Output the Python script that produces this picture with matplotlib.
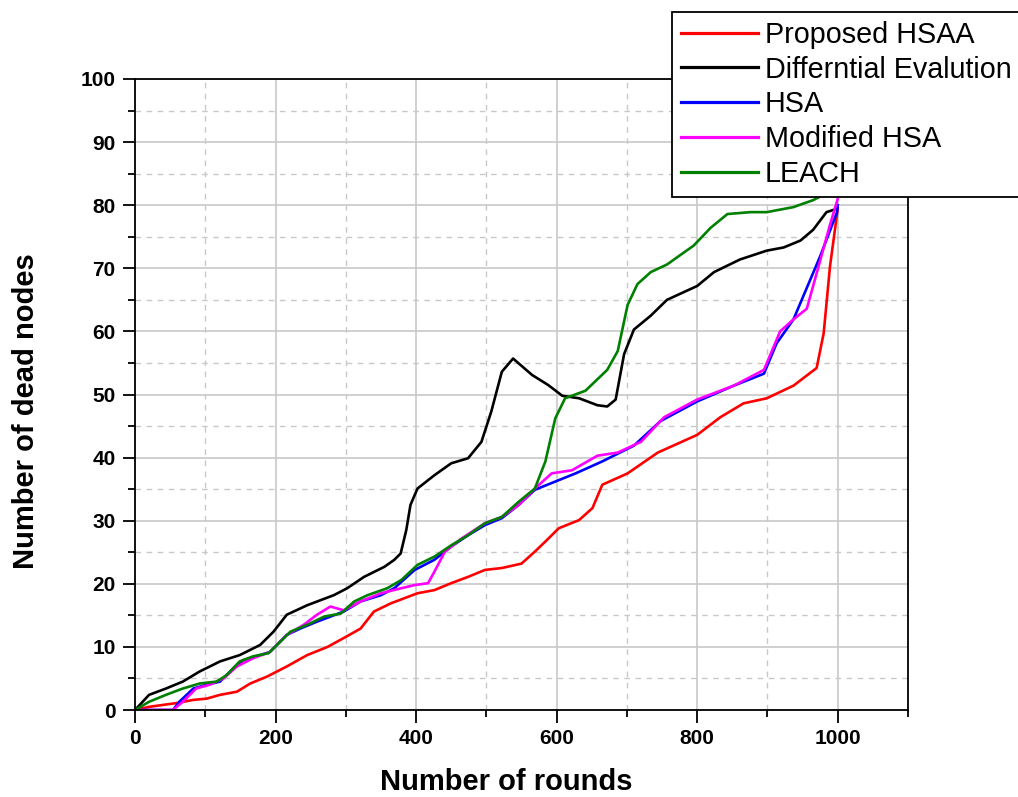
import matplotlib
matplotlib.use('Agg')
import matplotlib.pyplot as plt
from matplotlib.ticker import MultipleLocator

# dead nodes vs rounds
hsaa_x = [0, 20, 59, 83, 102, 121, 145, 164, 188, 216, 245, 274, 297, 321, 340, 364, 402, 426, 450, 474,
          498, 522, 550, 569, 584, 603, 632, 651, 665, 701, 744, 800, 833, 866, 899, 937, 970, 980, 989, 999, 1000]
hsaa_y = [0, 0.5, 1.1, 1.6, 1.8, 2.4, 2.9, 4.2, 5.3, 6.9, 8.7, 10.0, 11.4, 12.9, 15.6, 16.9, 18.5, 19.0, 20.1, 21.1,
          22.2, 22.5, 23.2, 25.1, 26.7, 28.8, 30.1, 32.0, 35.7, 37.5, 40.8, 43.6, 46.4, 48.6, 49.4, 51.4, 54.2, 59.7, 70.3, 78.6, 79.5]

de_x = [0, 20, 44, 68, 92, 121, 149, 178, 197, 216, 245, 283, 302, 326, 355, 369, 378, 386, 392, 402, 426, 450, 474,
        493, 507, 522, 538, 565, 588, 608, 632, 658, 672, 684, 696, 710, 734, 757, 800, 824, 861, 899, 923, 947,
        965, 984, 998]
de_y = [0, 2.4, 3.4, 4.5, 6.1, 7.7, 8.7, 10.3, 12.4, 15.1, 16.6, 18.2, 19.3, 21.1, 22.7, 23.8, 24.8, 28.5, 32.5, 35.1,
        37.2, 39.1, 39.9, 42.5, 47.3, 53.6, 55.7, 53.1, 51.5, 49.8, 49.4, 48.3, 48.1, 49.2, 56.4, 60.3, 62.5, 65.0,
        67.2, 69.4, 71.4, 72.8, 73.3, 74.4, 76.1, 78.9, 79.4]

hsa_x = [0, 54, 63, 83, 102, 121, 140, 154, 178, 192, 216, 235, 259, 278, 297, 321, 350, 369, 398, 426, 450, 474,
         498, 522, 546, 569, 598, 627, 665, 710, 748, 800, 852, 895, 913, 937, 956, 975, 999, 1000]
hsa_y = [0, 0, 1.3, 3.4, 4.0, 4.5, 6.6, 7.9, 8.7, 9.2, 11.9, 12.9, 14.0, 14.8, 15.6, 17.2, 18.2, 19.3, 22.2, 23.8,
         25.9, 27.7, 29.3, 30.4, 32.5, 34.9, 36.2, 37.5, 39.4, 41.9, 45.8, 48.9, 51.4, 53.3, 58.1, 61.9, 66.9, 71.9,
         78.9, 80.0]

mhsa_x = [0, 54, 68, 87, 106, 126, 145, 168, 192, 216, 240, 259, 278, 297, 321, 350, 379, 398, 417, 426, 441, 465,
          498, 522, 546, 569, 593, 622, 658, 687, 720, 753, 800, 852, 895, 918, 937, 956, 970, 989, 1000]
mhsa_y = [0, 0, 1.3, 3.4, 4.0, 5.0, 6.9, 8.2, 9.2, 11.9, 13.5, 15.1, 16.4, 15.8, 17.2, 18.5, 19.3, 19.8, 20.1, 21.9,
          25.1, 27.2, 29.6, 30.6, 32.5, 35.1, 37.5, 38.0, 40.3, 40.8, 42.5, 46.4, 49.2, 51.4, 53.9, 60.0, 61.9, 63.6,
          69.2, 76.9, 81.0]

leach_x = [0, 20, 44, 68, 92, 116, 130, 149, 168, 190, 202, 221, 245, 269, 293, 312, 331, 359, 379, 402, 426, 450,
           474, 498, 522, 546, 569, 584, 598, 612, 641, 672, 687, 701, 715, 734, 757, 795, 819, 843, 876, 899, 937,
           965, 984, 995]
leach_y = [0, 1.3, 2.4, 3.4, 4.2, 4.5, 5.5, 7.7, 8.5, 9.0, 10.3, 12.4, 13.5, 14.8, 15.3, 17.2, 18.2, 19.3, 20.6,
           23.0, 24.3, 26.1, 27.7, 29.6, 30.6, 33.0, 35.1, 39.4, 46.2, 49.4, 50.6, 53.9, 56.9, 64.2, 67.5, 69.4, 70.6,
           73.6, 76.4, 78.6, 78.9, 78.9, 79.7, 80.8, 81.9, 83.0]

series = [
    ('Proposed HSAA', hsaa_x, hsaa_y, '#ff0000'),
    ('Differntial Evalution', de_x, de_y, '#000000'),
    ('HSA', hsa_x, hsa_y, '#0000ff'),
    ('Modified HSA', mhsa_x, mhsa_y, '#ff00ff'),
    ('LEACH', leach_x, leach_y, '#008000'),
]

plt.rcParams['font.family'] = ['Liberation Sans', 'DejaVu Sans']

W, H = 1018, 797
fig = plt.figure(figsize=(W / 100, H / 100), dpi=100)
ax = fig.add_axes([135 / W, 87 / H, (908 - 135) / W, (710 - 79) / H])

for label, xs, ys, col in series:
    ax.plot(xs, ys, color=col, lw=1.9, label=label)

ax.set_xlim(0, 1100)
ax.set_ylim(0, 100)
ax.xaxis.set_major_locator(MultipleLocator(200))
ax.xaxis.set_minor_locator(MultipleLocator(100))
ax.yaxis.set_major_locator(MultipleLocator(10))
ax.yaxis.set_minor_locator(MultipleLocator(5))
ax.set_xticks([0, 200, 400, 600, 800, 1000])

ax.grid(which='major', color='#c8c8c8', lw=1.2, ls='-')
ax.grid(which='minor', color='#c8c8c8', lw=1.0, ls=(0, (4, 4)))
ax.set_axisbelow(True)

for sp in ax.spines.values():
    sp.set_linewidth(1.3)
ax.tick_params(which='major', direction='out', length=9, width=1.3, pad=5, labelsize=15)
ax.tick_params(which='minor', direction='out', length=5, width=1.3)
for t in ax.get_xticklabels() + ax.get_yticklabels():
    t.set_fontweight('bold')

ax.set_xlabel('Number of rounds', fontsize=21, fontweight='bold', va='center')
ax.set_ylabel('Number of dead nodes', fontsize=21, fontweight='bold', va='center')
ax.xaxis.set_label_coords((506 - 135) / 773, (710 - 782) / 631)
ax.yaxis.set_label_coords((26 - 135) / 773, (710 - 411) / 631)

leg = fig.legend(loc='upper left', bbox_to_anchor=(672 / W, 1 - 12 / H), borderaxespad=0,
                 fontsize=20.7, frameon=True, fancybox=False, framealpha=1, edgecolor='black',
                 handlelength=2.68, handletextpad=0.25, labelspacing=0.24, borderpad=0.3)
leg.get_frame().set_linewidth(1.3)
for ln in leg.get_lines():
    ln.set_linewidth(2.3)

fig.savefig('out.png', dpi=100)
